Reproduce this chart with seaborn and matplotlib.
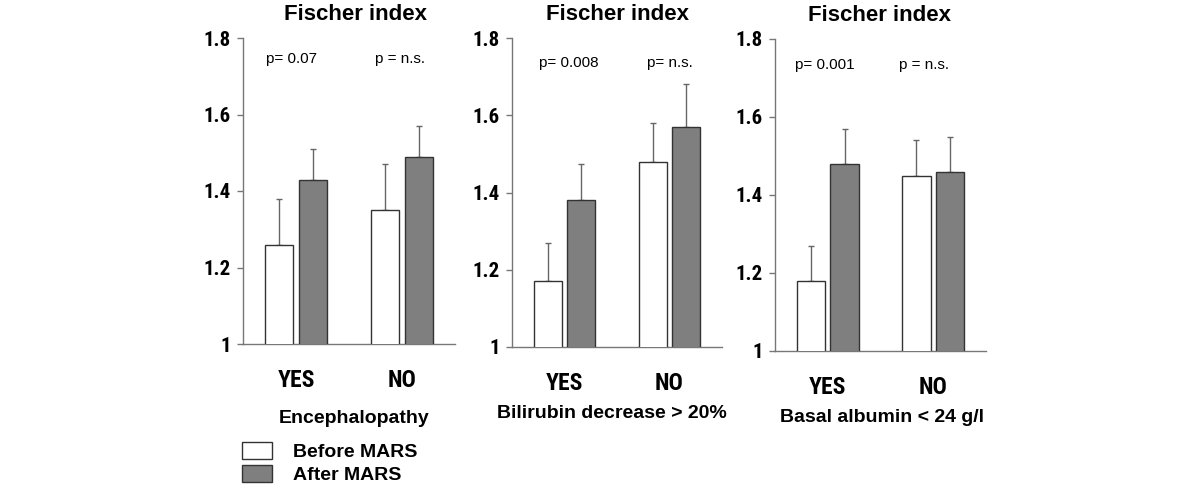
import numpy as np
import pandas as pd
import matplotlib
matplotlib.use("Agg")
import matplotlib.pyplot as plt
from matplotlib.patches import Patch
from matplotlib import font_manager
import seaborn as sns

# ---------------- data ----------------
categories = ["YES", "NO"]
groups = ["Before MARS", "After MARS"]

titles = ["Fischer index", "Fischer index", "Fischer index"]
xlabels = ["Encephalopathy", "Bilirubin decrease > 20%", "Basal albumin < 24 g/l"]

before_vals = [[1.26, 1.35], [1.17, 1.48], [1.18, 1.45]]
after_vals = [[1.43, 1.49], [1.38, 1.57], [1.48, 1.46]]
before_err = [[0.12, 0.12], [0.10, 0.10], [0.09, 0.09]]
after_err = [[0.08, 0.08], [0.095, 0.11], [0.09, 0.09]]

p_labels = [["p= 0.07", "p = n.s."], ["p= 0.008", "p= n.s."], ["p= 0.001", "p = n.s."]]

yticks = [1.0, 1.2, 1.4, 1.6, 1.8]
ytick_labels = ["1", "1.2", "1.4", "1.6", "1.8"]

# ---------------- style ----------------
sns.set_style("white")
plt.rcParams["font.family"] = ["Liberation Sans", "DejaVu Sans"]
for k in ["text.color", "axes.labelcolor", "xtick.color", "ytick.color"]:
    plt.rcParams[k] = "black"

available = {f.name for f in font_manager.fontManager.ttflist}
narrow_candidates = ["Liberation Sans Narrow", "DejaVu Sans Condensed", "Roboto Condensed",
                     "Open Sans Condensed"]
NARROW = [f for f in narrow_candidates if f in available] + ["Liberation Sans"]

W, H = 1200, 496
fig = plt.figure(figsize=(12, 4.96), dpi=100)

def px(x, y):
    return x / W, 1 - y / H

# axes geometry in pixels: left, right, top(1.8), bottom(1.0)
geoms = [(243, 455, 38, 344), (512, 722, 38, 347), (775, 986, 39, 351)]
title_pos = [(356, 20), (617, 20), (880, 21)]
xlabel_pos = [(354, 423), (612, 418), (882, 422)]
p_x = [[-0.04, 0.98], [0.04, 1.0], [-0.03, 0.91]]
p_y = [1.745, 1.736, 1.733]

fill = "#7f7f7f"
edge = "#333333"
axis_col = "#777777"
err_col = "#666666"

for i in range(3):
    l, r, t, b = geoms[i]
    ax = fig.add_axes([l / W, 1 - b / H, (r - l) / W, (b - t) / H])
    df = pd.DataFrame({
        "answer": categories * 2,
        "time": [groups[0]] * 2 + [groups[1]] * 2,
        "value": before_vals[i] + after_vals[i],
    })
    sns.barplot(data=df, x="answer", y="value", hue="time", order=categories,
                hue_order=groups, palette=["white", fill], width=0.64, gap=0.16,
                edgecolor=edge, linewidth=1.0, errorbar=None, legend=False, ax=ax,
                zorder=3)
    errs = [before_err[i], after_err[i]]
    for p in ax.patches:
        xc = p.get_x() + p.get_width() / 2
        ci = int(round(xc))
        hi = 0 if xc < ci else 1
        h = p.get_height()
        ax.errorbar([xc], [h], yerr=[[0], [errs[hi][ci]]], fmt="none",
                    ecolor=err_col, elinewidth=1.0, capsize=2.5, capthick=1.0, zorder=2)

    ax.set_xlim(-0.5, 1.5)
    ax.set_ylim(1.0, 1.8)
    ax.set_yticks(yticks)
    ax.set_yticklabels(ytick_labels, family=NARROW, fontweight="bold", fontsize=15)
    ax.set_xticks([0, 1])
    ax.set_xticklabels(categories, family=NARROW, fontweight="bold", fontsize=17)
    ax.set_xticks([-0.5, 0.5, 1.5], minor=True)
    ax.tick_params(axis="x", which="major", length=0, pad=18)
    ax.tick_params(axis="x", which="minor", length=6, width=1, color=axis_col, direction="out")
    ax.tick_params(axis="y", which="major", length=4, width=1, color=axis_col,
                   direction="out", pad=5, left=True)
    ax.set_xlabel("")
    ax.set_ylabel("")
    for s in ["top", "right"]:
        ax.spines[s].set_visible(False)
    for s in ["left", "bottom"]:
        ax.spines[s].set_color(axis_col)
        ax.spines[s].set_linewidth(1.0)
    ax.patch.set_alpha(0)

    for j in range(2):
        ax.text(p_x[i][j], p_y[i], p_labels[i][j], ha="center", va="center", fontsize=11)

    tx, ty = px(*title_pos[i])
    fig.text(tx, ty, titles[i], ha="center", va="baseline", fontsize=16, fontweight="bold")
    lx, ly = px(*xlabel_pos[i])
    fig.text(lx, ly, xlabels[i], ha="center", va="baseline", fontsize=14, fontweight="bold")

handles = [Patch(facecolor="white", edgecolor=edge, linewidth=1.0),
           Patch(facecolor=fill, edgecolor=edge, linewidth=1.0)]
lx, ly = px(242, 442)
fig.legend(handles, groups, loc="upper left", bbox_to_anchor=(lx, ly), frameon=False,
           borderpad=0, borderaxespad=0, handlelength=1.55, handleheight=0.95,
           handletextpad=1.05, labelspacing=0.22,
           prop={"weight": "bold", "size": 14})

fig.savefig("out.png", dpi=100)
